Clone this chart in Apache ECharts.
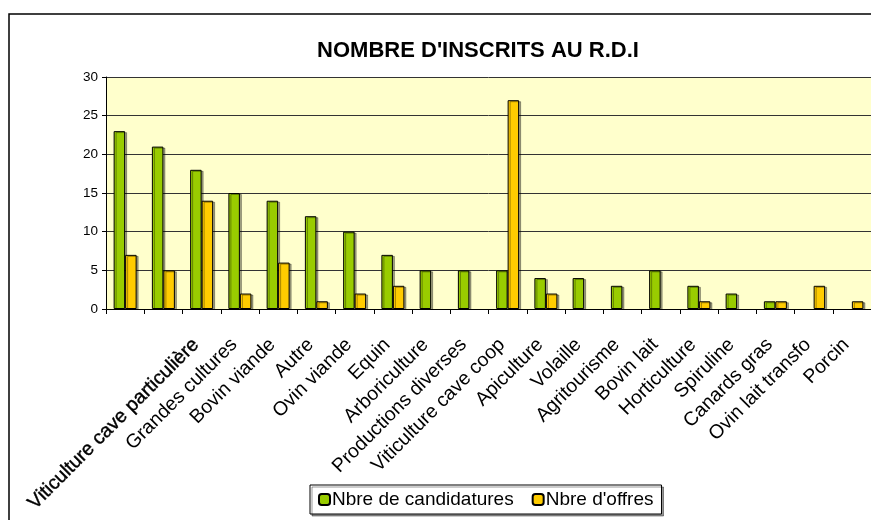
<!DOCTYPE html>
<html lang="fr">
<head>
    <meta charset="UTF-8">
    <title>Nombre d'inscrits au R.D.I</title>
    <script src="https://cdn.jsdelivr.net/npm/echarts@6/dist/echarts.min.js"></script>
    <style>
        html, body { margin: 0; padding: 0; background: #fff; }
        #chart { width: 871px; height: 520px; }
    </style>
</head>
<body>
    <div id="chart"></div>
    <script>
        // catégories (les deux premières n'ont pas de libellé visible)
        const categories = ['', '', 'Viticulture cave particulière', 'Grandes cultures', 'Bovin viande',
            'Autre', 'Ovin viande', 'Equin', 'Arboriculture', 'Productions diverses',
            'Viticulture cave coop', 'Apiculture', 'Volaille', 'Agritourisme', 'Bovin lait',
            'Horticulture', 'Spiruline', 'Canards gras', 'Ovin lait transfo', 'Porcin'];
        const candidatures = [23, 21, 18, 15, 14, 12, 10, 7, 5, 5, 5, 4, 4, 3, 5, 3, 2, 1, 0, 0];
        const offres = [7, 5, 14, 2, 6, 1, 2, 3, 0, 0, 27, 2, 0, 0, 0, 1, 0, 1, 3, 1];
        const yTicks = [0, 5, 10, 15, 20, 25, 30];

        const font = 'Liberation Sans, Arial, sans-serif';
        const chart = echarts.init(document.getElementById('chart'));

        // les valeurs nulles ne dessinent pas de barre
        const noZero = arr => arr.map(v => (v === 0 ? '-' : v));

        const barStyle = color => ({
            color: color,
            borderColor: '#000',
            borderWidth: 1,
            shadowColor: 'rgba(0,0,0,0.35)',
            shadowOffsetX: 2,
            shadowOffsetY: 1
        });

        chart.setOption({
            backgroundColor: '#fff',
            animation: false,
            title: {
                text: "NOMBRE D'INSCRITS AU R.D.I",
                left: 473,
                textAlign: 'center',
                top: 35,
                textStyle: { fontFamily: font, fontSize: 22, fontWeight: 'bold', color: '#000' }
            },
            graphic: [{
                type: 'rect',
                shape: { x: 9, y: 14, width: 900, height: 600 },
                style: { fill: 'none', stroke: '#000', lineWidth: 1.5 },
                silent: true
            }],
            legend: {
                left: 310,
                top: 485,
                itemWidth: 11,
                itemHeight: 11,
                itemGap: 18,
                padding: [5, 8],
                borderColor: '#000',
                borderWidth: 1,
                backgroundColor: '#fff',
                shadowColor: 'rgba(0,0,0,0.4)',
                shadowOffsetX: 2,
                shadowOffsetY: 2,
                textStyle: { fontFamily: font, fontSize: 19, color: '#000', padding: [0, 0, 0, -3] },
                data: ['Nbre de candidatures', "Nbre d'offres"]
            },
            grid: { left: 106, top: 77, right: -3, bottom: 211 },
            xAxis: {
                type: 'category',
                data: categories,
                axisLine: { lineStyle: { color: '#000', width: 1 } },
                axisTick: { show: true, interval: 0, length: 5, lineStyle: { color: '#000' } },
                axisLabel: {
                    interval: 0,
                    rotate: 45,
                    margin: 27,
                    fontFamily: font,
                    fontSize: 19.5,
                    color: '#000',
                    padding: [0, 8, 0, 0],
                    formatter: (v, i) => (i === 2 ? '{b|' + v + '}' : v),
                    rich: {
                        b: { fontFamily: font, fontSize: 19.5, color: '#000', textBorderColor: '#000', textBorderWidth: 0.4 }
                    }
                },
                splitArea: { show: false }
            },
            yAxis: {
                type: 'value',
                min: yTicks[0],
                max: yTicks[yTicks.length - 1],
                interval: yTicks[1] - yTicks[0],
                axisLine: { show: true, lineStyle: { color: '#000' } },
                axisTick: { show: true, length: 4, lineStyle: { color: '#000' } },
                axisLabel: { fontFamily: font, fontSize: 13.5, color: '#000', margin: 8 },
                splitLine: { show: true, lineStyle: { color: '#333', width: 1 } },
                splitArea: { show: true, areaStyle: { color: ['#FFFFCC'] } }
            },
            series: [{
                name: 'Nbre de candidatures',
                type: 'bar',
                data: noZero(candidatures),
                barWidth: 11.5,
                barGap: '0%',
                itemStyle: barStyle('#99CC00')
            }, {
                name: "Nbre d'offres",
                type: 'bar',
                data: noZero(offres),
                barWidth: 11.5,
                itemStyle: barStyle('#FFCC00')
            }]
        });
    </script>
</body>
</html>
